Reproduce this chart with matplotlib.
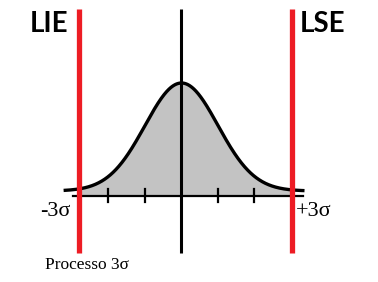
import numpy as np
import matplotlib
matplotlib.use("Agg")
import matplotlib.pyplot as plt

# ---- data (in sigma units) ----
mu = 0.0
sigma = 1.0
curve_range = [-3.23, 3.37]      # extent of the drawn bell curve
spec_limits = [-2.82, 3.03]      # LIE, LSE positions
spec_labels = ["LIE", "LSE"]
tick_positions = [-2, -1, 1, 2]
sigma_labels = ["-3σ", "+3σ"]
title_text = "Processo 3σ"

# ---- pixel geometry helpers (layout only) ----
W, H = 378, 282
cx, spx = 181.5, 36.5      # pixel of mean, pixels per sigma
base_py, peak_h = 191, 108  # pixel of curve baseline, height of peak

def px(xp, yp):
    return (xp - cx) / spx, (base_py - yp) / peak_h

fig = plt.figure(figsize=(W / 100, H / 100), dpi=100)
ax = fig.add_axes([0, 0, 1, 1])
x0, y1 = px(0, 0)
x1, y0 = px(W, H)
ax.set_xlim(x0, x1)
ax.set_ylim(y0, y1)
ax.axis("off")

x = np.linspace(curve_range[0], curve_range[1], 600)
y = np.exp(-0.5 * ((x - mu) / sigma) ** 2)

axis_y = px(0, 196)[1]

# gray fill between red lines
m = (x >= spec_limits[0]) & (x <= spec_limits[1])
ax.fill_between(x[m], axis_y, y[m], color="#c3c3c3", lw=0, zorder=1)

# horizontal axis
ax.plot([px(73, 0)[0], px(303, 0)[0]], [axis_y, axis_y], color="black", lw=1.6, zorder=2)

# ticks
t_top = px(0, 189)[1]
t_bot = px(0, 202)[1]
for t in tick_positions:
    ax.plot([t, t], [t_bot, t_top], color="black", lw=1.6, zorder=2)

# curve
ax.plot(x, y, color="black", lw=2.4, zorder=3, solid_capstyle="butt")

# vertical lines
v_top = px(0, 9)[1]
v_bot = px(0, 253)[1]
ax.plot([mu, mu], [v_bot, v_top], color="black", lw=2.2, zorder=4, solid_capstyle="butt")
for s in spec_limits:
    ax.plot([s, s], [v_bot, v_top], color="#ed1c24", lw=3.8, zorder=5, solid_capstyle="butt")

# labels
for lab, xp in zip(spec_labels, [49, 322.5]):
    ax.text(*px(xp, 24), lab, fontsize=20, fontweight="bold", family="Lato",
            ha="center", va="center", color="black")
for lab, xp in zip(sigma_labels, [55, 313.5]):
    ax.text(*px(xp, 211), lab, fontsize=16, family="Liberation Serif",
            ha="center", va="center", color="black")
ax.text(*px(45, 265), title_text, fontsize=12.5, family="Liberation Serif",
        ha="left", va="center", color="black")

fig.savefig("out.png", dpi=100)
